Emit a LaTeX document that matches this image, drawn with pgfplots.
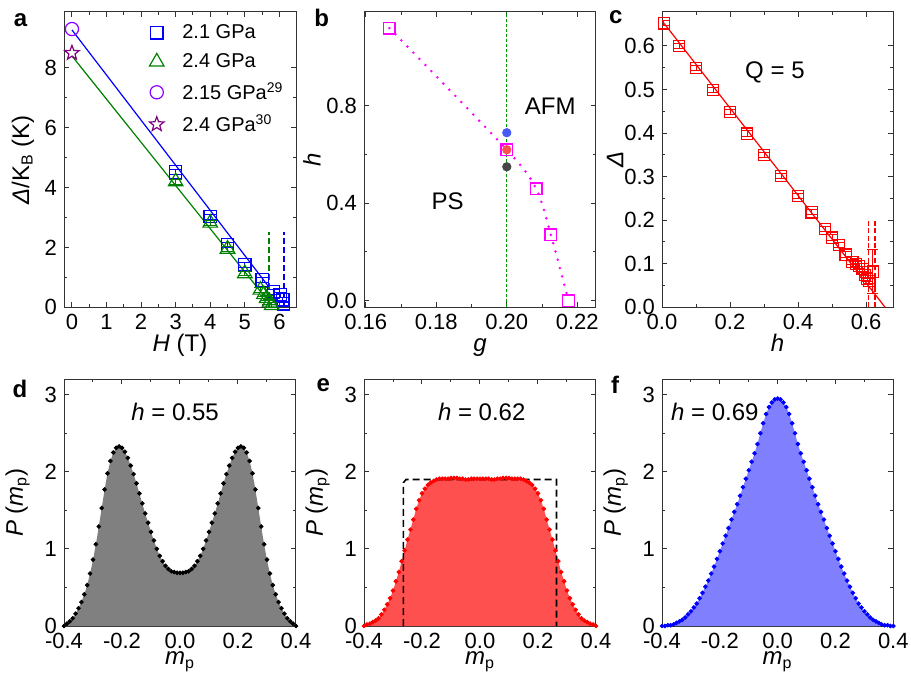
\documentclass[border=0pt]{standalone}
\usepackage{fontspec}
\setmainfont{Liberation Sans}
\usepackage{pgfplots}
\usepackage{pgfplotstable}
\pgfplotsset{compat=1.18}

\definecolor{cblue}{RGB}{0,0,255}
\definecolor{cgreen}{RGB}{0,128,0}
\definecolor{cviolet}{RGB}{140,0,255}
\definecolor{cpurple}{RGB}{128,0,128}
\definecolor{cmag}{RGB}{255,0,255}
\definecolor{cred}{RGB}{255,0,0}
\definecolor{fillred}{RGB}{255,80,80}
\definecolor{fillblue}{RGB}{128,128,255}
\definecolor{fillgray}{RGB}{128,128,128}
\definecolor{dgreen}{RGB}{0,150,0}
\definecolor{dotblue}{RGB}{70,90,245}
\definecolor{dotred}{RGB}{255,80,80}
\definecolor{dotgray}{RGB}{70,70,70}

\pgfdeclareplotmark{ostar}{%
 \pgfpathmoveto{\pgfpointpolar{90}{\pgfplotmarksize}}%
 \pgfpathlineto{\pgfpointpolar{126}{0.42\pgfplotmarksize}}%
 \pgfpathlineto{\pgfpointpolar{162}{\pgfplotmarksize}}%
 \pgfpathlineto{\pgfpointpolar{198}{0.42\pgfplotmarksize}}%
 \pgfpathlineto{\pgfpointpolar{234}{\pgfplotmarksize}}%
 \pgfpathlineto{\pgfpointpolar{270}{0.42\pgfplotmarksize}}%
 \pgfpathlineto{\pgfpointpolar{306}{\pgfplotmarksize}}%
 \pgfpathlineto{\pgfpointpolar{342}{0.42\pgfplotmarksize}}%
 \pgfpathlineto{\pgfpointpolar{18}{\pgfplotmarksize}}%
 \pgfpathlineto{\pgfpointpolar{54}{0.42\pgfplotmarksize}}%
 \pgfpathclose
 \pgfusepathqstroke}

\tikzset{
 letter/.style={font=\bfseries\fontsize{12}{14}\selectfont},
 annot/.style={font=\fontsize{12}{14}\selectfont},
}

\pgfplotsset{
 panel/.style={
  scale only axis,
  clip mode=individual,
  axis line style={black!80, line width=0.5pt},
  tick style={black!80, line width=0.5pt},
  major tick length=2.6pt,
  minor tick length=1.5pt,
  tick align=inside,
  /pgf/number format/assume math mode=true,
  tick label style={font=\fontsize{11}{13}\selectfont},
  label style={font=\fontsize{12}{14}\selectfont},
  xlabel style={anchor=base},
  ylabel style={anchor=center},
  minor x tick num=1, minor y tick num=1,
 },
 distr/.style={
  panel, width=116pt, height=123.35pt,
  xmin=-0.4, xmax=0.4, ymin=0, ymax=3.2,
  xtick={-0.4,-0.2,0,0.2,0.4}, xticklabels={-0.4,-0.2,0.0,0.2,0.4},
  ytick={0,1,2,3}, yticklabels={0,1,2,3},
  xlabel={\textit{m}\textsubscript{p}},
  ylabel={\textit{P} (\textit{m}\textsubscript{p})},
  xlabel style={at={(axis description cs:0.5,-0.158)}},
  ylabel style={at={(axis description cs:-0.2,0.5)}},
 },
}

\pgfplotstableread{
m P
-0.40 0.00
-0.39 0.03
-0.38 0.06
-0.37 0.10
-0.36 0.16
-0.35 0.23
-0.34 0.31
-0.33 0.41
-0.32 0.53
-0.31 0.68
-0.30 0.86
-0.29 1.06
-0.28 1.29
-0.27 1.53
-0.26 1.77
-0.25 1.98
-0.24 2.14
-0.23 2.25
-0.22 2.31
-0.21 2.33
-0.20 2.31
-0.19 2.26
-0.18 2.18
-0.17 2.08
-0.16 1.97
-0.15 1.85
-0.14 1.72
-0.13 1.59
-0.12 1.46
-0.11 1.34
-0.10 1.22
-0.09 1.11
-0.08 1.00
-0.07 0.91
-0.06 0.84
-0.05 0.78
-0.04 0.74
-0.03 0.71
-0.02 0.70
-0.01 0.69
0.00 0.69
0.01 0.69
0.02 0.70
0.03 0.71
0.04 0.74
0.05 0.78
0.06 0.84
0.07 0.91
0.08 1.00
0.09 1.11
0.10 1.22
0.11 1.34
0.12 1.46
0.13 1.59
0.14 1.72
0.15 1.85
0.16 1.97
0.17 2.08
0.18 2.18
0.19 2.26
0.20 2.31
0.21 2.33
0.22 2.31
0.23 2.25
0.24 2.14
0.25 1.98
0.26 1.77
0.27 1.53
0.28 1.29
0.29 1.06
0.30 0.86
0.31 0.68
0.32 0.53
0.33 0.41
0.34 0.31
0.35 0.23
0.36 0.16
0.37 0.10
0.38 0.06
0.39 0.03
0.40 0.00
}\dataD

\pgfplotstableread{
m P
-0.40 0.00
-0.39 0.02
-0.38 0.03
-0.37 0.05
-0.36 0.07
-0.35 0.10
-0.34 0.15
-0.33 0.21
-0.32 0.28
-0.31 0.36
-0.30 0.46
-0.29 0.58
-0.28 0.70
-0.27 0.84
-0.26 0.98
-0.25 1.12
-0.24 1.25
-0.23 1.38
-0.22 1.52
-0.21 1.63
-0.20 1.72
-0.19 1.78
-0.18 1.83
-0.17 1.86
-0.16 1.88
-0.15 1.90
-0.14 1.91
-0.13 1.91
-0.12 1.91
-0.11 1.91
-0.10 1.92
-0.09 1.92
-0.08 1.92
-0.07 1.91
-0.06 1.91
-0.05 1.90
-0.04 1.90
-0.03 1.91
-0.02 1.91
-0.01 1.91
0.00 1.91
0.01 1.91
0.02 1.91
0.03 1.91
0.04 1.90
0.05 1.90
0.06 1.91
0.07 1.91
0.08 1.92
0.09 1.92
0.10 1.92
0.11 1.91
0.12 1.91
0.13 1.91
0.14 1.91
0.15 1.90
0.16 1.88
0.17 1.86
0.18 1.83
0.19 1.78
0.20 1.72
0.21 1.63
0.22 1.52
0.23 1.38
0.24 1.25
0.25 1.12
0.26 0.98
0.27 0.84
0.28 0.70
0.29 0.58
0.30 0.46
0.31 0.36
0.32 0.28
0.33 0.21
0.34 0.15
0.35 0.10
0.36 0.07
0.37 0.05
0.38 0.03
0.39 0.02
0.40 0.00
}\dataE

\pgfplotstableread{
m P
-0.40 0.00
-0.39 0.00
-0.38 0.01
-0.37 0.01
-0.36 0.02
-0.35 0.04
-0.34 0.06
-0.33 0.08
-0.32 0.11
-0.31 0.15
-0.30 0.19
-0.29 0.24
-0.28 0.29
-0.27 0.36
-0.26 0.43
-0.25 0.51
-0.24 0.59
-0.23 0.68
-0.22 0.77
-0.21 0.87
-0.20 0.97
-0.19 1.07
-0.18 1.17
-0.17 1.27
-0.16 1.38
-0.15 1.48
-0.14 1.58
-0.13 1.69
-0.12 1.80
-0.11 1.91
-0.10 2.02
-0.09 2.13
-0.08 2.24
-0.07 2.36
-0.06 2.50
-0.05 2.63
-0.04 2.75
-0.03 2.84
-0.02 2.90
-0.01 2.94
0.00 2.95
0.01 2.94
0.02 2.90
0.03 2.84
0.04 2.75
0.05 2.63
0.06 2.50
0.07 2.36
0.08 2.24
0.09 2.13
0.10 2.02
0.11 1.91
0.12 1.80
0.13 1.69
0.14 1.58
0.15 1.48
0.16 1.38
0.17 1.27
0.18 1.17
0.19 1.07
0.20 0.97
0.21 0.87
0.22 0.77
0.23 0.68
0.24 0.59
0.25 0.51
0.26 0.43
0.27 0.36
0.28 0.29
0.29 0.24
0.30 0.19
0.31 0.15
0.32 0.11
0.33 0.08
0.34 0.06
0.35 0.04
0.36 0.02
0.37 0.01
0.38 0.01
0.39 0.00
0.40 0.00
}\dataF

\begin{document}
\begin{tikzpicture}
\path[use as bounding box] (0,0) rectangle (455.5pt,343pt);

% ---------------- panel a ----------------
\begin{axis}[panel, at={(32pt,189.35pt)}, anchor=south west,
  width=116pt, height=147.65pt,
  xmin=-0.23, xmax=6.48, ymin=0, ymax=9.87,
  xtick={0,1,2,3,4,5,6}, xticklabels={0,1,2,3,4,5,6},
  ytick={0,2,4,6,8}, yticklabels={0,2,4,6,8},
  xlabel={\textit{H} (T)},
  ylabel={\textit{Δ}/K\textsubscript{B} (K)},
  xlabel style={at={(axis description cs:0.5,-0.149)}},
  ylabel style={at={(axis description cs:-0.177,0.5)}},
  legend image code/.code={\path (-10.5pt,0pt) (10.5pt,0pt); \draw[#1] plot coordinates {(0pt,0pt)};},
  legend style={at={(rel axis cs:0.305,0.973)}, anchor=north west,
    draw=none, fill=none, inner sep=0pt, row sep=2pt,
    font=\fontsize{10}{12}\selectfont},
  legend cell align=left]
\addplot[cblue, line width=0.6pt, forget plot] coordinates {(0,9.27) (5.65,0.75)};
\addplot[cgreen, line width=0.6pt, forget plot] coordinates {(0,8.4) (5.75,0.1)};
\addplot[cgreen, line width=1pt, dash pattern=on 3pt off 1.5pt, forget plot] coordinates {(5.70,0) (5.70,2.5)};
\addplot[cblue, line width=1pt, dash pattern=on 3pt off 1.5pt, forget plot] coordinates {(6.12,0) (6.12,2.5)};
\addplot[cblue, only marks, mark=square, mark size=3.1pt, line width=0.6pt,
  error bars/.cd, y dir=both, y explicit,
  error bar style={line width=0.5pt},
  error mark options={rotate=90, mark size=3.1pt, line width=0.5pt}]
  table[x index=0, y index=1, y error index=2] {
3.0 4.52 0.08
4.0 3.03 0.08
4.5 2.08 0.08
5.0 1.42 0.08
5.5 0.91 0.08
5.83 0.52 0.08
6.02 0.42 0.08
6.1 0.25 0.08
6.12 0.12 0.08
};
\addlegendentry{2.1 GPa}
\addplot[cgreen, only marks, mark=triangle, mark size=4.2pt, line width=0.6pt,
  error bars/.cd, y dir=both, y explicit,
  error bar style={line width=0.5pt},
  error mark options={rotate=90, mark size=3.3pt, line width=0.5pt}]
  table[x index=0, y index=1, y error index=2] {
3.0 4.20 0.08
4.0 2.82 0.08
4.5 1.95 0.08
5.0 1.13 0.08
5.45 0.58 0.08
5.55 0.43 0.08
5.63 0.30 0.08
5.72 0.18 0.08
5.78 0.07 0.08
};
\addlegendentry{2.4 GPa}
\addplot[cviolet, only marks, mark=o, mark size=3.3pt, line width=0.6pt] coordinates {(0,9.3)};
\addlegendentry{2.15 GPa\textsuperscript{29}}
\addplot[cpurple, only marks, mark=ostar, mark size=3.8pt, line width=0.6pt] coordinates {(0,8.5)};
\addlegendentry{2.4 GPa\textsuperscript{30}}
\node[letter] at (rel axis cs:-0.187,0.973) {a};
\end{axis}

% ---------------- panel b ----------------
\begin{axis}[panel, at={(182pt,189.35pt)}, anchor=south west,
  width=116pt, height=147.65pt,
  xmin=0.1595, xmax=0.2253, ymin=-0.0274, ymax=1.186,
  xtick={0.16,0.18,0.20,0.22}, xticklabels={0.16,0.18,0.20,0.22},
  ytick={0,0.4,0.8}, yticklabels={0.0,0.4,0.8},
  xlabel={\textit{g}}, ylabel={\textit{h}},
  xlabel style={at={(axis description cs:0.5,-0.149)}},
  ylabel style={at={(axis description cs:-0.224,0.5)}}]
\addplot[dgreen, line width=0.5pt, dash pattern=on 1.5pt off 1pt] coordinates {(0.2,-0.0274) (0.2,1.186)};
\addplot[cmag, line width=1.4pt, line cap=round, dash pattern=on 0pt off 4.3pt, smooth]
  coordinates {(0.1667,1.12) (0.2,0.62) (0.2083,0.46) (0.2125,0.27) (0.2175,0)};
\addplot[only marks, mark=*, mark size=2.1pt, dotblue] coordinates {(0.2,0.69)};
\addplot[only marks, mark=*, mark size=2.1pt, dotred] coordinates {(0.2,0.62)};
\addplot[only marks, mark=*, mark size=2.1pt, dotgray] coordinates {(0.2,0.55)};
\addplot[cmag, only marks, mark=square, mark size=2.9pt, line width=0.7pt]
  coordinates {(0.1667,1.12) (0.2,0.62) (0.2083,0.46) (0.2125,0.27) (0.2175,0)};
\node[annot] at (axis cs:0.2123,0.80) {AFM};
\node[annot] at (axis cs:0.1832,0.41) {PS};
\node[letter] at (rel axis cs:-0.182,0.979) {b};
\end{axis}

% ---------------- panel c ----------------
\begin{axis}[panel, at={(331pt,189.35pt)}, anchor=south west,
  width=115.65pt, height=147.65pt,
  xmin=0, xmax=0.68, ymin=0, ymax=0.678,
  xtick={0,0.2,0.4,0.6}, xticklabels={0.0,0.2,0.4,0.6},
  ytick={0,0.1,0.2,0.3,0.4,0.5,0.6}, yticklabels={0.0,0.1,0.2,0.3,0.4,0.5,0.6},
  xlabel={\textit{h}}, ylabel={\textit{Δ}},
  xlabel style={at={(axis description cs:0.5,-0.149)}},
  ylabel style={at={(axis description cs:-0.203,0.5)}}]
\addplot[cred, line width=0.6pt] coordinates {(0,0.658) (0.656,0)};
\addplot[cred, line width=0.9pt, dash pattern=on 2.5pt off 1.2pt] coordinates {(0.607,0) (0.607,0.2)};
\addplot[cred, line width=0.9pt, dash pattern=on 2.5pt off 1.2pt] coordinates {(0.626,0) (0.626,0.2)};
\addplot[cred, only marks, mark=square, mark size=2.8pt, line width=0.6pt,
  error bars/.cd, y dir=both, y explicit,
  error bar style={line width=0.5pt},
  error mark options={rotate=90, mark size=2.8pt, line width=0.5pt}]
  table[x index=0, y index=1, y error index=2] {
0.005 0.652 0.006
0.05 0.600 0.006
0.10 0.549 0.006
0.15 0.499 0.006
0.20 0.449 0.006
0.25 0.399 0.006
0.30 0.350 0.006
0.35 0.301 0.006
0.40 0.256 0.006
0.44 0.218 0.006
0.48 0.180 0.006
0.50 0.160 0.006
0.52 0.143 0.006
0.54 0.121 0.006
0.56 0.104 0.006
0.57 0.100 0.006
0.58 0.095 0.006
0.59 0.088 0.006
0.597 0.074 0.006
0.603 0.066 0.006
0.61 0.061 0.006
0.62 0.082 0.050
};
\node[annot] at (axis cs:0.332,0.54) {Q = 5};
\node[letter] at (rel axis cs:-0.2,0.984) {c};
\end{axis}

% ---------------- panel d ----------------
\begin{axis}[distr, at={(32pt,30pt)}, anchor=south west]
\addplot[draw=none, fill=fillgray] table[x=m, y=P] {\dataD} \closedcycle;
\addplot[black, only marks, mark=*, mark size=0.95pt] table[x=m, y=P] {\dataD};
\node[annot] at (axis cs:-0.017,2.78) {\textit{h} = 0.55};
\node[letter] at (rel axis cs:-0.19,0.963) {d};
\end{axis}

% ---------------- panel e ----------------
\begin{axis}[distr, at={(182pt,30pt)}, anchor=south west]
\addplot[draw=none, fill=fillred] table[x=m, y=P] {\dataE} \closedcycle;
\addplot[black, line width=0.8pt, dash pattern=on 3.5pt off 2pt]
  coordinates {(-0.264,0) (-0.264,1.86) (-0.255,1.9) (0.264,1.9) (0.264,0)};
\addplot[cred, only marks, mark=*, mark size=0.95pt] table[x=m, y=P] {\dataE};
\node[annot] at (axis cs:0.006,2.78) {\textit{h} = 0.62};
\node[letter] at (rel axis cs:-0.175,0.977) {e};
\end{axis}

% ---------------- panel f ----------------
\begin{axis}[distr, at={(331pt,30pt)}, anchor=south west, width=115.65pt]
\addplot[draw=none, fill=fillblue] table[x=m, y=P] {\dataF} \closedcycle;
\addplot[cblue, only marks, mark=*, mark size=0.95pt] table[x=m, y=P] {\dataF};
\node[annot] at (axis cs:-0.217,2.78) {\textit{h} = 0.69};
\node[letter] at (rel axis cs:-0.203,0.977) {f};
\end{axis}
\end{tikzpicture}
\end{document}
